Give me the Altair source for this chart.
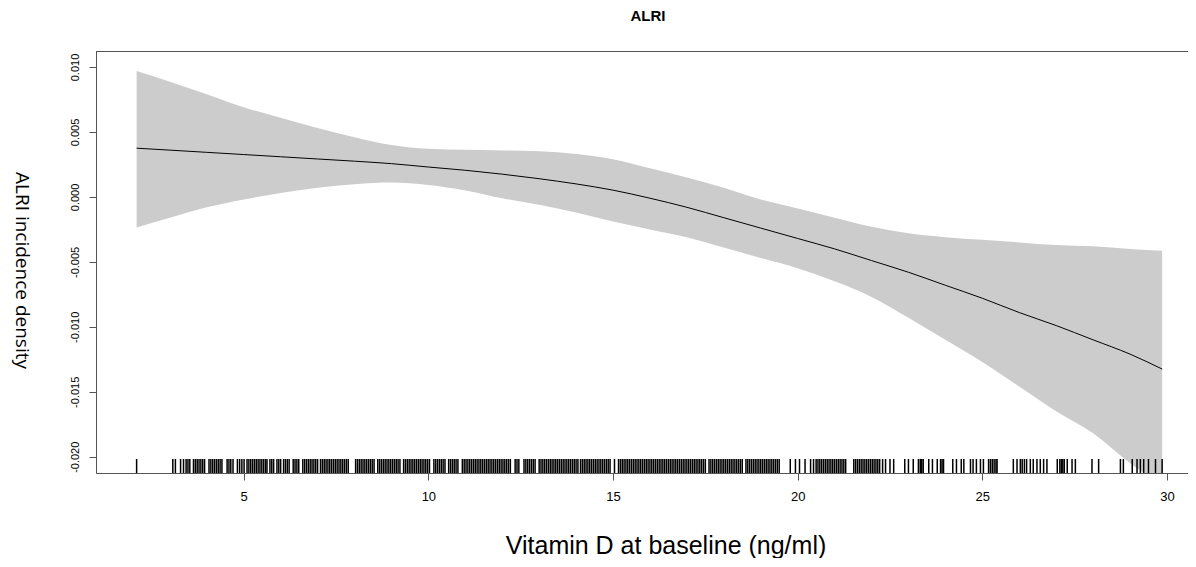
import altair as alt
import pandas as pd

TITLE = ["ALRI"]
X_TITLE = "Vitamin D at baseline (ng/ml)"
Y_TITLE = "ALRI incidence density"

# smooth estimate with confidence band
vit_d = [2.1, 3.0, 4.0, 5.0, 6.0, 7.0, 8.0, 9.0, 10.0, 11.0, 12.0, 13.0, 14.0, 15.0,
         16.0, 17.0, 18.0, 19.0, 20.0, 21.0, 22.0, 23.0, 24.0, 25.0, 26.0, 27.0, 28.0,
         29.0, 29.87]
fit = [0.00375, 0.0036, 0.00343, 0.00326, 0.00309, 0.00292, 0.00275, 0.00256, 0.0023,
       0.00205, 0.00175, 0.0014, 0.0010, 0.00052, -0.0001, -0.0008, -0.0016, -0.0024,
       -0.0032, -0.0040, -0.0049, -0.0058, -0.0068, -0.0078, -0.0089, -0.0099, -0.0110,
       -0.0121, -0.01325]
upper = [0.0097, 0.00887, 0.0079, 0.0069, 0.0061, 0.0053, 0.0046, 0.0040, 0.0037,
         0.00362, 0.00358, 0.00352, 0.0033, 0.0029, 0.0022, 0.0015, 0.0007, -0.0002,
         -0.0009, -0.0016, -0.0023, -0.0028, -0.0031, -0.0033, -0.0035, -0.0037,
         -0.0038, -0.0040, -0.00415]
lower = [-0.00235, -0.0016, -0.0008, -0.0002, 0.0003, 0.0007, 0.00098, 0.0011, 0.00092,
         0.0005, -0.0001, -0.0006, -0.0012, -0.0019, -0.0025, -0.0031, -0.0039, -0.0047,
         -0.0055, -0.0065, -0.0077, -0.0093, -0.0110, -0.0127, -0.0146, -0.0165, -0.0182,
         -0.0205, -0.0222]

# rug of observed vitamin D values
rug_x = [
    2.10, 3.08, 3.15, 3.29, 3.37,
    3.44, 3.49, 3.54, 3.64, 3.69, 3.74, 3.79, 3.84, 3.89, 3.94,
    4.06, 4.11, 4.16, 4.21, 4.26, 4.31, 4.36, 4.41,
    4.55, 4.60, 4.65, 4.71, 4.83, 4.89, 4.95, 5.01,
    5.09, 5.14, 5.19, 5.24, 5.29, 5.34, 5.39, 5.44, 5.49, 5.54, 5.59, 5.63, 5.71, 5.76,
    5.81, 5.90, 5.95, 6.00, 6.08, 6.13, 6.18, 6.23, 6.34, 6.39,
    6.44, 6.49, 6.60, 6.65, 6.70, 6.75, 6.80, 6.85, 6.90, 6.95, 7.00, 7.08, 7.13, 7.18,
    7.23, 7.28, 7.33, 7.38, 7.43, 7.48, 7.53, 7.58, 7.63, 7.68, 7.73, 7.78, 7.83,
    8.03, 8.08, 8.13, 8.18, 8.23, 8.28, 8.33, 8.38, 8.43, 8.48, 8.53, 8.63, 8.68, 8.73,
    8.78, 8.83, 8.88, 8.93, 8.98, 9.03, 9.08, 9.13, 9.18, 9.23, 9.33, 9.38, 9.43, 9.48,
    9.53, 9.58, 9.63, 9.68, 9.73, 9.78, 9.83, 9.88, 9.93, 9.98, 10.03,
    10.15, 10.20, 10.25, 10.30, 10.35, 10.40, 10.45, 10.55, 10.60, 10.65, 10.70, 10.75,
    10.80, 10.92, 10.97, 11.02, 11.07, 11.12, 11.17, 11.22, 11.27, 11.32, 11.37, 11.42,
    11.47, 11.52, 11.57, 11.62, 11.67, 11.72, 11.77, 11.82, 11.87, 11.92, 11.97, 12.02,
    12.07, 12.12, 12.17, 12.22, 12.35, 12.40, 12.45, 12.59, 12.64, 12.69, 12.74, 12.79,
    12.84, 12.89, 13.00, 13.05, 13.10, 13.15, 13.20, 13.25, 13.30, 13.35, 13.40, 13.45,
    13.50, 13.55, 13.60, 13.65, 13.70, 13.75, 13.80, 13.85, 13.90, 13.95, 14.00, 14.05,
    14.12, 14.17, 14.22, 14.27, 14.32, 14.37, 14.42, 14.47, 14.52, 14.57, 14.62, 14.67,
    14.72, 14.77, 14.82, 14.87, 14.92, 15.04, 15.15, 15.20, 15.25, 15.30, 15.35, 15.40,
    15.45, 15.50, 15.55, 15.60, 15.65, 15.70, 15.75, 15.80, 15.85, 15.90, 15.95, 16.00,
    16.05, 16.10, 16.15, 16.20, 16.25, 16.30, 16.35, 16.40, 16.45, 16.50, 16.55, 16.60,
    16.65, 16.70, 16.75, 16.80, 16.85, 16.90, 16.95, 17.00, 17.05, 17.10, 17.15, 17.20,
    17.25, 17.30, 17.35, 17.40, 17.45, 17.50, 17.60, 17.65, 17.70, 17.75, 17.80, 17.85,
    17.90, 17.95, 18.00, 18.05, 18.10, 18.15, 18.20, 18.25, 18.30, 18.35, 18.40, 18.45,
    18.50, 18.60, 18.65, 18.70, 18.75, 18.80, 18.85, 18.90, 18.95, 19.00, 19.05, 19.10,
    19.15, 19.20, 19.25, 19.30, 19.35, 19.40, 19.45, 19.50,
    19.80, 19.94, 20.05, 20.20, 20.35, 20.43,
    20.50, 20.55, 20.60, 20.65, 20.70, 20.75, 20.80, 20.85, 20.90, 20.95, 21.00, 21.05,
    21.10, 21.15, 21.20, 21.25, 21.30,
    21.52, 21.57, 21.62, 21.67, 21.72, 21.77, 21.82, 21.87, 21.92, 21.97, 22.02, 22.07,
    22.12, 22.17, 22.22,
    22.30, 22.38, 22.50, 22.60, 22.90, 23.00, 23.13, 23.27, 23.32, 23.36, 23.40, 23.55,
    23.65, 23.78, 23.87, 23.91, 23.95, 24.20, 24.30, 24.43, 24.50, 24.68, 24.75, 24.84,
    24.95, 25.03, 25.17, 25.22, 25.27, 25.32, 25.37, 25.40, 25.84, 25.94, 26.03, 26.08,
    26.14, 26.20, 26.30, 26.38, 26.48, 26.57, 26.66, 26.75, 27.03, 27.10, 27.14, 27.18,
    27.22, 27.30, 27.43, 27.52, 27.97, 28.15, 28.74, 28.82, 29.06, 29.19, 29.28, 29.37,
    29.50, 29.69, 29.87,
]

x_ticks = [5, 10, 15, 20, 25, 30]
y_ticks = [-0.02, -0.015, -0.01, -0.005, 0.0, 0.005, 0.01]

W, H = 1092, 422
X_DOMAIN = [1.0, 30.57]
Y_DOMAIN = [-0.02125, 0.01123]
AXIS_GRAY = "#555555"

curve = pd.DataFrame({"x": vit_d, "fit": fit, "lo": lower, "hi": upper})
rug = pd.DataFrame({"x": rug_x})
title_df = pd.DataFrame({"t": TITLE})
edge_df = pd.DataFrame({"edge": ["top"]})

xs = alt.Scale(domain=X_DOMAIN, nice=False, zero=False)
ys = alt.Scale(domain=Y_DOMAIN, nice=False, zero=False)

x_axis = alt.Axis(
    values=x_ticks, format="d", labelAngle=0, labelFont="Liberation Sans",
    labelFontSize=13, labelColor="black", labelPadding=10, tickSize=7,
    tickColor=AXIS_GRAY, domainColor=AXIS_GRAY, grid=False,
    title=X_TITLE, titleFont="Liberation Sans", titleFontSize=25,
    titleFontWeight="normal", titleColor="black", titleX=569.5, titleY=80,
    titleAlign="center", titleBaseline="alphabetic",
)
y_axis = alt.Axis(
    values=y_ticks,
    labelExpr="(datum.value < 0 ? '-' : '') + format(abs(datum.value), '.3f')",
    labelAngle=270, labelAlign="center", labelBaseline="bottom",
    labelFont="Liberation Sans", labelFontSize=11, labelColor="black",
    labelPadding=9, tickSize=7, tickColor=AXIS_GRAY, domainColor=AXIS_GRAY,
    grid=False, title=Y_TITLE, titleFont="Open Sans", titleFontSize=19,
    titleFontWeight="normal", titleColor="black", titleAngle=90,
    titleX=-74.5, titleY=219, titleAlign="center", titleBaseline="middle",
)

band = alt.Chart(curve).mark_area(color="#CCCCCC", opacity=1, clip=True,
                                  interpolate="monotone").encode(
    x=alt.X("x:Q", scale=xs, axis=x_axis),
    y=alt.Y("lo:Q", scale=ys, axis=y_axis),
    y2="hi:Q",
)
line = alt.Chart(curve).mark_line(color="black", strokeWidth=1, clip=True,
                                  interpolate="monotone").encode(
    x=alt.X("x:Q", scale=xs),
    y=alt.Y("fit:Q", scale=ys),
)
rugs = alt.Chart(rug).mark_rule(color="black", strokeWidth=1.5).encode(
    x=alt.X("x:Q", scale=xs),
    y=alt.value(H - 14),
    y2=alt.value(H),
)
top_edge = alt.Chart(edge_df).mark_rule(color=AXIS_GRAY, strokeWidth=1).encode(
    x=alt.value(0), x2=alt.value(W), y=alt.value(0.5),
)
title = alt.Chart(title_df).mark_text(
    font="Liberation Sans", fontSize=15, fontWeight="bold", color="black",
    baseline="alphabetic", align="center",
).encode(text="t:N", x=alt.value(552), y=alt.value(-30))

chart = alt.layer(band, line, rugs, top_edge, title).properties(
    width=W, height=H,
    padding={"left": 88, "top": 43, "right": 0, "bottom": 85},
    autosize=alt.AutoSizeParams(type="none"),
).configure_view(stroke=None).configure(background="white")

chart.save("out.html", embed_options={"renderer": "svg", "actions": False})
